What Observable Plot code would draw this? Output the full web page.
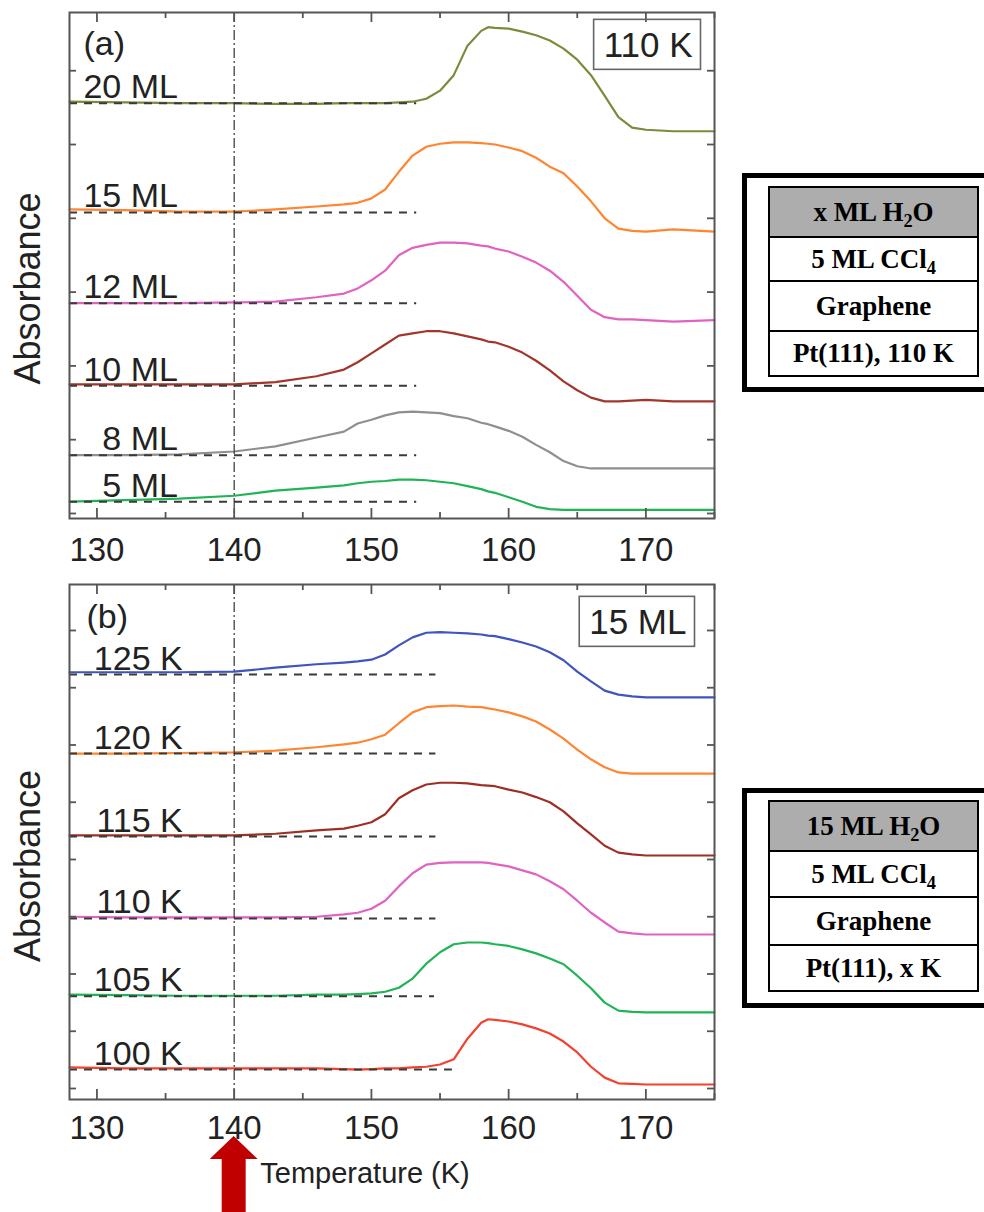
<!DOCTYPE html>
<html><head><meta charset="utf-8">
<script src="https://cdn.jsdelivr.net/npm/d3@7"></script>
<script src="https://cdn.jsdelivr.net/npm/@observablehq/plot@0.6"></script>
<style>
body{margin:0;background:#fff;}
#wrap{position:relative;width:984px;height:1212px;overflow:hidden;background:#fff;}
.plot{position:absolute;left:0;}
.outer{position:absolute;left:742px;width:262px;border:5px solid #000;box-sizing:border-box;background:#fff;}
.stack{position:absolute;left:768px;width:211px;box-sizing:border-box;border:2px solid #000;font-family:"Liberation Serif","Times New Roman",serif;font-weight:bold;font-size:27px;color:#000;}
.stack > div{display:flex;align-items:center;justify-content:center;box-sizing:border-box;border-top:2px solid #000;white-space:nowrap;}
.stack > div:first-child{border-top:none;background:#adadad;}
.stack span{display:inline-block;line-height:1;}
sub{font-size:0.68em;vertical-align:-0.3em;line-height:0;}
</style></head>
<body><div id="wrap"></div>
<script>
// ---- data (temperature grid in K, absorbance in arbitrary units) ----
const temps = [128,132,136,140,143,146,148,149,150,151,152,153,154,155,156,157,158,158.5,159,160,161,162,163,164,165,166,167,168,169,170,172,175];

// panel (a): 110 K deposition, x ML H2O
const ml20 = [55.8,55.7,55.6,55.6,55.5,55.5,55.6,55.6,55.6,55.6,55.7,55.8,56.2,57.3,59.4,63.4,65.4,65.9,65.8,65.7,65.3,64.8,64.1,63.0,61.5,59.4,56.6,53.7,52.3,52.0,51.8,51.8];
const ml15 = [41.2,41.1,40.9,40.9,41.2,41.6,41.9,42.1,42.7,43.9,46.3,48.5,49.7,50.1,50.3,50.3,50.2,50.1,50.0,49.6,49.1,48.2,47.0,46.1,44.3,42.3,40.0,38.6,38.3,38.2,38.5,38.2];
const ml12 = [28.5,28.5,28.5,28.6,28.7,29.3,29.8,30.5,31.6,32.9,35.0,36.0,36.4,36.7,36.7,36.6,36.3,36.2,35.9,35.5,34.8,34.0,32.9,31.4,29.5,27.6,26.6,26.3,26.3,26.2,26.0,26.2];
const ml10 = [17.5,17.5,17.5,17.5,17.8,18.6,19.5,20.5,21.7,22.9,24.1,24.4,24.7,24.7,24.4,24.0,23.6,23.3,23.2,22.6,21.8,20.7,19.4,17.9,16.7,15.7,15.2,15.2,15.3,15.4,15.2,15.2];
const ml8  = [7.9,7.9,8.0,8.4,9.1,10.3,11.1,12.2,12.7,13.3,13.7,13.8,13.7,13.6,13.2,12.9,12.3,12.1,11.8,11.2,10.4,9.3,8.3,7.1,6.4,6.1,6.1,6.1,6.1,6.1,6.1,6.1];
const ml5  = [1.6,1.8,2.0,2.4,3.1,3.5,3.8,4.1,4.3,4.4,4.6,4.6,4.5,4.3,4.1,3.7,3.3,3.0,2.8,2.2,1.6,0.9,0.6,0.5,0.5,0.5,0.5,0.5,0.5,0.5,0.5,0.5];
const labelsA = ["20 ML","15 ML","12 ML","10 ML","8 ML","5 ML"];
const baselinesA = [55.6,40.8,28.5,17.3,7.9,1.6];
const dashEndA = [153.3,153.3,153.3,153.3,153.3,153.3];

// panel (b): 15 ML H2O, deposition temperature x K
const k125 = [72.7,72.7,72.7,72.8,73.5,74.1,74.4,74.6,74.9,75.8,77.4,78.8,79.6,79.7,79.6,79.5,79.3,79.1,79.0,78.5,77.9,77.2,76.2,74.8,72.8,71.1,69.5,68.8,68.5,68.3,68.3,68.3];
const k120 = [58.5,58.5,58.6,58.7,59.0,59.6,60.1,60.4,61.0,61.8,63.8,65.7,66.6,66.8,66.9,66.7,66.6,66.4,66.2,65.7,65.0,64.1,62.7,61.1,59.2,57.5,56.1,55.2,55.0,55.0,55.0,55.0];
const k115 = [44.2,44.2,44.2,44.2,44.5,45.1,45.4,45.9,46.5,47.9,50.7,52.1,53.1,53.4,53.4,53.3,53.0,52.9,52.8,52.2,51.7,50.9,50.0,48.4,46.3,44.4,42.4,41.2,40.9,40.7,40.7,40.7];
const k110 = [30.0,29.9,29.9,29.9,29.9,30.0,30.4,30.7,31.4,32.8,35.3,37.6,39.1,39.4,39.5,39.5,39.5,39.4,39.2,38.8,38.1,37.4,36.2,34.8,32.8,30.7,29.0,27.4,27.1,26.9,26.9,26.9];
const k105 = [16.4,16.3,16.2,16.2,16.2,16.4,16.4,16.5,16.6,16.9,17.6,19.2,21.8,23.8,25.2,25.5,25.5,25.4,25.2,24.9,24.3,23.6,22.7,21.7,19.7,17.5,15.0,13.6,13.4,13.3,13.3,13.3];
const k100 = [3.7,3.5,3.5,3.5,3.5,3.5,3.4,3.3,3.4,3.5,3.5,3.7,3.8,4.2,5.1,8.7,11.5,12.1,12.0,11.7,11.2,10.5,9.6,8.2,6.3,3.8,1.9,0.9,0.8,0.7,0.7,0.7];
const labelsB = ["125 K","120 K","115 K","110 K","105 K","100 K"];
const baselinesB = [72.3,58.5,44.0,29.7,16.1,3.3];
const dashEndB = [154.7,154.7,154.7,154.7,154.6,155.9];

const xMajor = [130,140,150,160,170];
const xMinor = [135,145,155,165,175];
const yTicksA = [0,10,20,30,40,50,60];
const yTicksB = [0,10,20,30,40,50,60,70,80];
const markedT = 140;

const stackA = ["x ML H<sub>2</sub>O","5 ML CCl<sub>4</sub>","Graphene","Pt(111), 110 K"];
const stackB = ["15 ML H<sub>2</sub>O","5 ML CCl<sub>4</sub>","Graphene","Pt(111), x K"];

// ---- styling ----
const colorsA = ["#7e8a3b","#ff8530","#e062c2","#a3362b","#8f8f8f","#1fb455"];
const colorsB = ["#3f54c0","#ff8530","#9e2f25","#e062c2","#1fb455","#f3412f"];
const xDomain = [128, 175];
const W = 740;
const FONT = '"Liberation Sans", Arial, Helvetica, sans-serif';
const wrap = document.getElementById("wrap");

function buildPanel(o) {
  const innerH = o.height - o.mt - o.mb;
  const innerW = W - o.ml - o.mr;
  const marks = [];
  o.series.forEach((vals, i) => {
    marks.push(Plot.line(temps.map((t, j) => ({t, v: vals[j]})), {x: "t", y: "v", stroke: o.colors[i], strokeWidth: 2.2}));
  });
  marks.push(Plot.ruleY(o.baselines.map((b, i) => ({b, e: o.dashEnd[i]})),
    {y: "b", x1: () => xDomain[0], x2: "e", stroke: "#3a3a3a", strokeWidth: 2, strokeDasharray: "8,7"}));
  marks.push(Plot.ruleX([markedT], {x: d => d, stroke: "#333", strokeWidth: 1.2, strokeDasharray: "10,3,2,3"}));
  marks.push(Plot.frame({stroke: "#555", strokeWidth: 2}));
  const tk = {stroke: "#555", strokeWidth: 1.8};
  marks.push(Plot.tickX(xMajor, {x: d => d, insetTop: innerH - 10, ...tk}));
  marks.push(Plot.tickX(xMajor, {x: d => d, insetBottom: innerH - 10, ...tk}));
  marks.push(Plot.tickX(xMinor, {x: d => d, insetTop: innerH - 6, ...tk}));
  marks.push(Plot.tickX(xMinor, {x: d => d, insetBottom: innerH - 6, ...tk}));
  marks.push(Plot.tickY(o.yTicks, {y: d => d, insetRight: innerW - 7, ...tk}));
  marks.push(Plot.tickY(o.yTicks, {y: d => d, insetLeft: innerW - 7, ...tk}));
  marks.push(Plot.text(xMajor, {x: d => d, frameAnchor: "bottom", lineAnchor: "top", dy: o.tickPad, text: d => String(d), fontSize: 33, fill: "#222"}));
  marks.push(Plot.text(o.labels.map((l, i) => ({l, b: o.baselines[i]})),
    {x: () => o.labelX, y: "b", text: "l", textAnchor: "end", lineAnchor: "bottom", dy: -5, fontSize: 34, fill: "#222"}));
  marks.push(Plot.text([o.tag], {frameAnchor: "top-left", textAnchor: "start", lineAnchor: "top", dx: o.tagDx, dy: o.tagDy, fontSize: 34, fill: "#222"}));
  marks.push(Plot.text([o.box], {frameAnchor: "top-right", textAnchor: "end", lineAnchor: "top", dx: o.boxDx, dy: o.boxDy, fontSize: 35, fill: "#222"}));
  marks.push(Plot.text(["Absorbance"], {frameAnchor: "left", rotate: -90, dx: -41, dy: o.absDy, fontSize: 36, lineAnchor: "middle", textAnchor: "middle", fill: "#222"}));
  if (o.xlabel) marks.push(Plot.text([o.xlabel], {frameAnchor: "bottom", lineAnchor: "top", dx: -27, dy: 63, fontSize: 29, fill: "#222"}));

  const chart = Plot.plot({
    width: W, height: o.height,
    marginTop: o.mt, marginBottom: o.mb, marginLeft: o.ml, marginRight: o.mr,
    x: {domain: xDomain, axis: null},
    y: {domain: o.yDomain, axis: null},
    style: {fontFamily: FONT, fontSize: "34px", color: "#222", background: "transparent", overflow: "visible"},
    marks
  });
  chart.classList.add("plot");
  chart.style.top = o.top + "px";
  wrap.appendChild(chart);

  // box around the condition label, sized from the rendered text
  const t = [...chart.querySelectorAll("text")].find(e => e.textContent === o.box);
  if (t) {
    const r = t.getBoundingClientRect(), s = chart.getBoundingClientRect();
    const rect = document.createElementNS("http://www.w3.org/2000/svg", "rect");
    rect.setAttribute("x", r.left - s.left - 10);
    rect.setAttribute("y", r.top - s.top - 6);
    rect.setAttribute("width", r.width + 18);
    rect.setAttribute("height", r.height + 11);
    rect.setAttribute("fill", "none");
    rect.setAttribute("stroke", "#666");
    rect.setAttribute("stroke-width", 1.6);
    chart.appendChild(rect);
  }
  return chart;
}

buildPanel({
  top: 0, height: 600, mt: 12, mb: 82, ml: 69, mr: 26,
  yDomain: [-0.68, 67.89], yTicks: yTicksA,
  series: [ml20, ml15, ml12, ml10, ml8, ml5], colors: colorsA,
  labels: labelsA, baselines: baselinesA, dashEnd: dashEndA, labelX: 135.9,
  tag: "(a)", tagDx: 14, tagDy: 18, box: "110 K", boxDx: -22, boxDy: 20,
  absDy: 23, tickPad: 19
});

const chartB = buildPanel({
  top: 572, height: 640, mt: 12, mb: 113, ml: 69, mr: 26,
  yDomain: [-1.92, 88.03], yTicks: yTicksB,
  series: [k125, k120, k115, k110, k105, k100], colors: colorsB,
  labels: labelsB, baselines: baselinesB, dashEnd: dashEndB, labelX: 136.25,
  tag: "(b)", tagDx: 17, tagDy: 19, box: "15 ML", boxDx: -28, boxDy: 25,
  absDy: 24, tickPad: 16, xlabel: "Temperature (K)"
});

// red arrow marking 140 K, positioned with the panel's x scale
{
  const cx = chartB.scale("x").apply(markedT);
  const tip = 564, base = 587, bottom = 645, hw = 24, sw = 12;
  const p = document.createElementNS("http://www.w3.org/2000/svg", "path");
  p.setAttribute("d", `M${cx},${tip} L${cx + hw},${base} L${cx + sw},${base} L${cx + sw},${bottom} L${cx - sw},${bottom} L${cx - sw},${base} L${cx - hw},${base} Z`);
  p.setAttribute("fill", "#c00000");
  chartB.appendChild(p);
}

// layer-stack schematics
function stack(top, outerH, tableTop, rows, heights) {
  const o = document.createElement("div");
  o.className = "outer"; o.style.top = top + "px"; o.style.height = outerH + "px";
  wrap.appendChild(o);
  const s = document.createElement("div");
  s.className = "stack"; s.style.top = tableTop + "px";
  rows.forEach((r, i) => {
    const d = document.createElement("div");
    const sp = document.createElement("span");
    sp.innerHTML = r;
    d.appendChild(sp);
    d.style.height = heights[i] + "px";
    s.appendChild(d);
  });
  wrap.appendChild(s);
}
stack(173, 219, 186, stackA, [48, 44, 50, 45]);
stack(788, 220, 800, stackB, [48, 46, 48, 46]);
</script>
</body></html>
